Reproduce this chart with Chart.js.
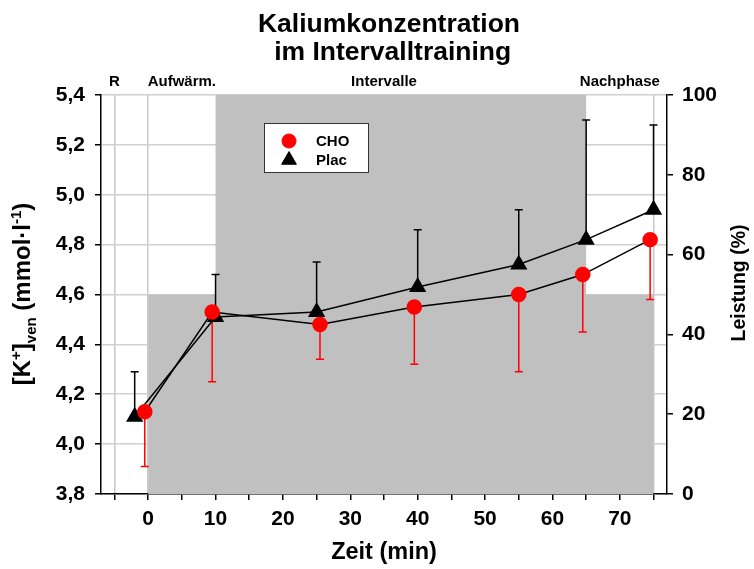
<!DOCTYPE html>
<html>
<head>
<meta charset="utf-8">
<script src="https://cdn.jsdelivr.net/npm/chart.js@4.4.0/dist/chart.umd.min.js"></script>
<style>
    body { margin: 0; background: #fff; }
</style>
</head>
<body>
<canvas id="kaliumChart" width="754" height="569"></canvas>
<script>
// Data
const choTime = [-0.5, 9.5, 25.5, 39.5, 55, 64.5, 74.5];
const choMean = [4.13, 4.53, 4.48, 4.55, 4.60, 4.68, 4.82];
const choSd = [0.22, 0.28, 0.14, 0.23, 0.31, 0.23, 0.24];

const placTime = [-2, 10, 25, 40, 55, 65, 75];
const placMean = [4.11, 4.51, 4.53, 4.63, 4.72, 4.82, 4.94];
const placSd = [0.18, 0.17, 0.20, 0.23, 0.22, 0.48, 0.34];

// Leistung (%) profile, stepped
const loadTime = [0, 10, 65, 75];
const loadPct = [50, 100, 50, 50];

const timeTicks = [-5, 0, 5, 10, 15, 20, 25, 30, 35, 40, 45, 50, 55, 60, 65, 70, 75];
const timeLabels = [0, 10, 20, 30, 40, 50, 60, 70];
const timeGrid = [-5, 0, 75];
const phaseNames = ['R', 'Aufwärm.', 'Intervalle', 'Nachphase'];
const phaseCenters = [-5, 5, 35, 70];

const FONT = 'Arial, "Liberation Sans", sans-serif';

const toPoints = (xs, ys) => xs.map((x, i) => ({ x: x, y: ys[i] }));

// error bars: CHO downwards (red), Plac upwards (black)
const errorBars = {
    id: 'errorBars',
    afterDatasetDraw(chart, args) {
        if (args.index !== 0) return;
        const { ctx, scales: { x, y } } = chart;
        const draw = (times, means, sds, dir, color) => {
            ctx.save();
            ctx.strokeStyle = color;
            ctx.lineWidth = 1.5;
            times.forEach((t, i) => {
                const px = x.getPixelForValue(t);
                const y0 = y.getPixelForValue(means[i]);
                const y1 = y.getPixelForValue(means[i] + dir * sds[i]);
                ctx.beginPath();
                ctx.moveTo(px, y0);
                ctx.lineTo(px, y1);
                ctx.moveTo(px - 4, y1);
                ctx.lineTo(px + 4, y1);
                ctx.stroke();
            });
            ctx.restore();
        };
        draw(choTime, choMean, choSd, -1, '#ff0000');
        draw(placTime, placMean, placSd, 1, '#000000');
    }
};

// titles, phase labels, axis titles and the legend box
const annotations = {
    id: 'annotations',
    afterDraw(chart) {
        const { ctx, chartArea, scales: { x } } = chart;
        ctx.save();
        ctx.fillStyle = '#000';
        ctx.textAlign = 'center';
        ctx.textBaseline = 'middle';

        ctx.font = 'bold 26.5px ' + FONT;
        ctx.fillText('Kaliumkonzentration', 389, 25);
        ctx.fillText(' im Intervalltraining', 389, 53);

        ctx.font = 'bold 15px ' + FONT;
        phaseNames.forEach((name, i) => {
            ctx.fillText(name, x.getPixelForValue(phaseCenters[i]), 82);
        });

        ctx.font = 'bold 23.5px ' + FONT;
        ctx.fillText('Zeit (min)', (chartArea.left + chartArea.right) / 2, 553);

        ctx.save();
        ctx.translate(740, 283);
        ctx.rotate(-Math.PI / 2);
        ctx.font = 'bold 19.5px ' + FONT;
        ctx.fillText('Leistung (%)', 0, 0);
        ctx.restore();

        // left title with super/subscripts
        const parts = [
            ['[K', 24, 0], ['+', 15, -9], [']', 24, 0], ['ven', 15, 6],
            [' (mmol·l', 24, 0], ['-1', 15, -9], [')', 24, 0]
        ];
        ctx.save();
        ctx.translate(22, 294);
        ctx.rotate(-Math.PI / 2);
        ctx.textAlign = 'left';
        ctx.textBaseline = 'alphabetic';
        let total = 0;
        parts.forEach(p => { ctx.font = 'bold ' + p[1] + 'px ' + FONT; total += ctx.measureText(p[0]).width; });
        let cx = -total / 2;
        parts.forEach(p => {
            ctx.font = 'bold ' + p[1] + 'px ' + FONT;
            ctx.fillText(p[0], cx, 8 + p[2]);
            cx += ctx.measureText(p[0]).width;
        });
        ctx.restore();

        // legend
        ctx.fillStyle = '#fff';
        ctx.fillRect(264.5, 123.5, 104, 49);
        ctx.strokeStyle = '#333';
        ctx.lineWidth = 1;
        ctx.strokeRect(264.5, 123.5, 104, 49);
        chart.data.datasets.slice(1).forEach((ds, i) => {
            const ly = 141 + i * 19;
            ctx.fillStyle = ds.pointBackgroundColor;
            ctx.strokeStyle = ds.pointBorderColor;
            Chart.helpers.drawPoint(ctx, {
                pointStyle: ds.pointStyle, radius: ds.pointRadius, rotation: 0, borderWidth: 1
            }, 289, ly);
            ctx.fillStyle = '#000';
            ctx.font = 'bold 15px ' + FONT;
            ctx.textAlign = 'left';
            ctx.fillText(ds.label, 316, ly + 1);
        });
        ctx.restore();
    }
};

const tickFont = { family: FONT, size: 21, weight: 'bold' };

new Chart(document.getElementById('kaliumChart'), {
    type: 'line',
    data: {
        datasets: [
            {
                label: 'Leistung',
                data: toPoints(loadTime, loadPct),
                yAxisID: 'y2',
                stepped: true,
                fill: 'origin',
                backgroundColor: '#c0c0c0',
                borderWidth: 0,
                borderColor: 'rgba(0,0,0,0)',
                pointRadius: 0,
                order: 3
            },
            {
                label: 'CHO',
                data: toPoints(choTime, choMean),
                yAxisID: 'y',
                borderColor: '#000',
                borderWidth: 1.5,
                pointStyle: 'circle',
                pointRadius: 7,
                pointBackgroundColor: '#ff0000',
                pointBorderColor: '#ff0000',
                order: 1
            },
            {
                label: 'Plac',
                data: toPoints(placTime, placMean),
                yAxisID: 'y',
                borderColor: '#000',
                borderWidth: 1.5,
                pointStyle: 'triangle',
                pointRadius: 8.5,
                pointBackgroundColor: '#000',
                pointBorderColor: '#000',
                order: 2
            }
        ]
    },
    options: {
        responsive: false,
        animation: false,
        events: [],
        layout: { padding: { top: 95, left: 0, right: 0, bottom: 0 } },
        plugins: { legend: { display: false }, title: { display: false }, tooltip: { enabled: false } },
        scales: {
            x: {
                type: 'linear',
                min: -7,
                max: 77,
                afterFit: (s) => { s.height = 75; },
                afterBuildTicks: (s) => { s.ticks = timeTicks.map(v => ({ value: v })); },
                ticks: {
                    autoSkip: false,
                    maxRotation: 0,
                    padding: 7,
                    color: '#000',
                    font: tickFont,
                    callback: (v) => timeLabels.includes(v) ? String(v) : ''
                },
                grid: {
                    color: (c) => (c.tick && timeGrid.includes(c.tick.value)) ? '#c8c8c8' : 'rgba(0,0,0,0)',
                    tickColor: '#000',
                    tickLength: 6,
                    lineWidth: 1.5
                },
                border: { color: '#000', width: 1.5 }
            },
            y: {
                position: 'left',
                min: 3.8,
                max: 5.4,
                afterFit: (s) => { s.width = 101; },
                ticks: {
                    stepSize: 0.2,
                    padding: 10,
                    color: '#000',
                    font: tickFont,
                    callback: (v) => v.toFixed(1).replace('.', ',')
                },
                grid: { color: '#d0d0d0', tickColor: '#000', tickLength: 6, lineWidth: 1.5 },
                border: { color: '#000', width: 1.5 }
            },
            y2: {
                position: 'right',
                min: 0,
                max: 100,
                afterFit: (s) => { s.width = 87; },
                ticks: { stepSize: 20, padding: 9, color: '#000', font: tickFont },
                grid: { drawOnChartArea: false, tickColor: '#000', tickLength: 6, lineWidth: 1.5 },
                border: { color: '#000', width: 1.5 }
            }
        }
    },
    plugins: [errorBars, annotations]
});
</script>
</body>
</html>
